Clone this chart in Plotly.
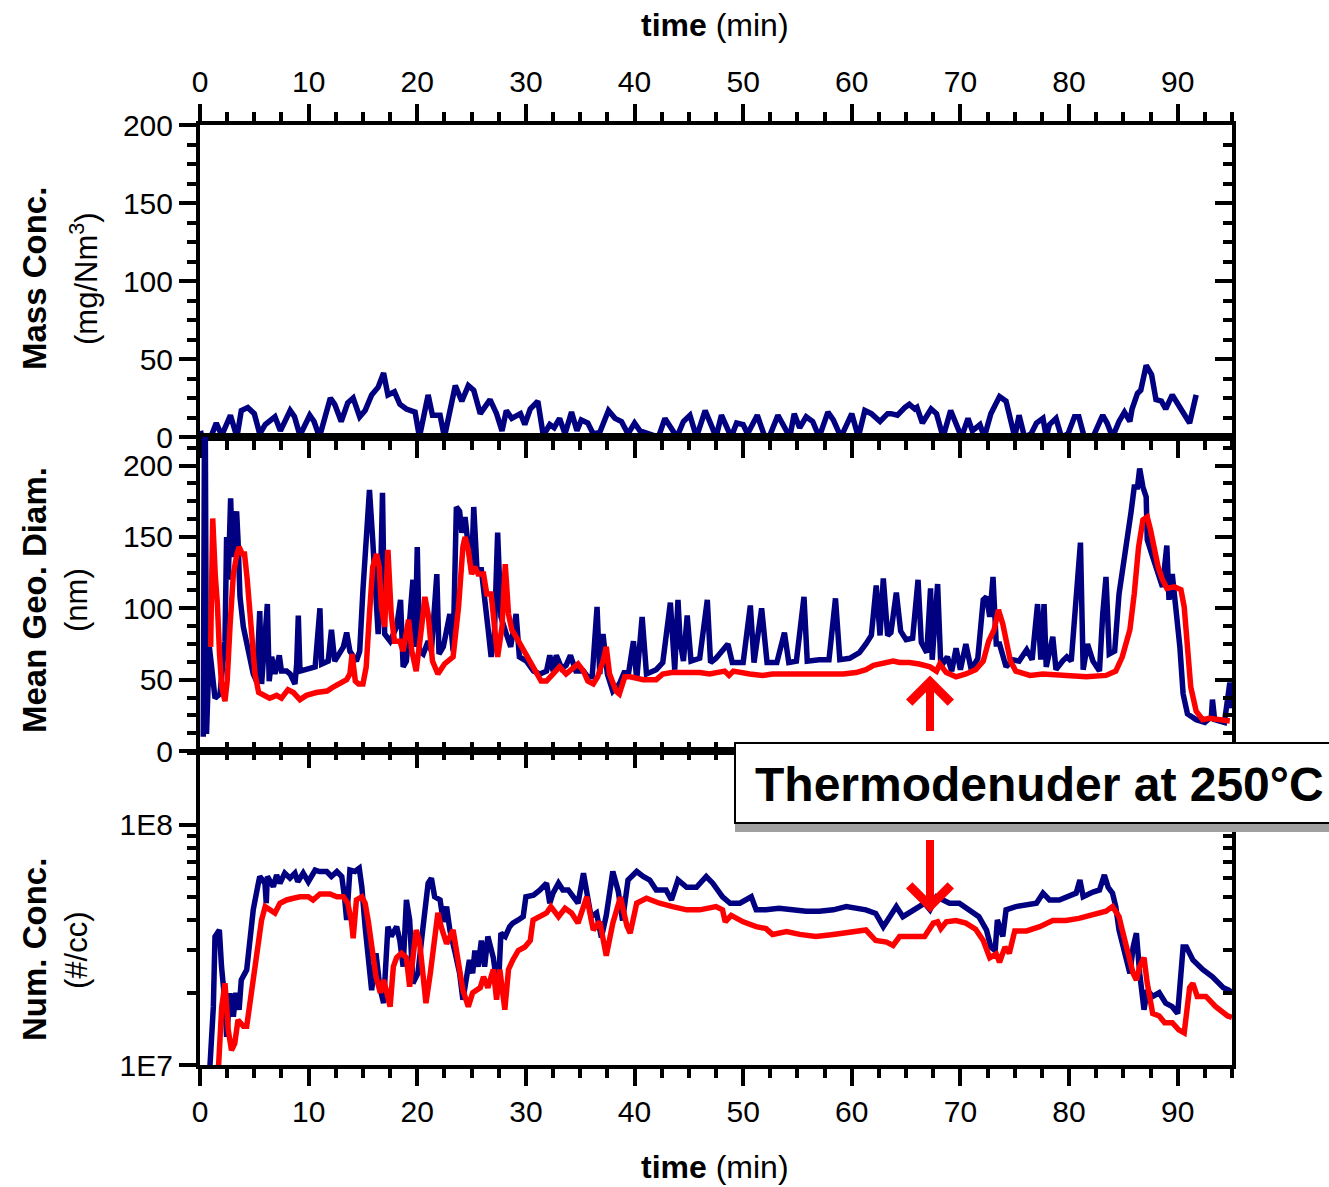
import plotly.graph_objects as go

# ---------------- data ----------------
x_tick_vals = [0, 10, 20, 30, 40, 50, 60, 70, 80, 90]

mass_t = [0.05, 0.3, 1.0, 1.5, 2.0, 2.8, 3.4, 3.8, 4.4, 5.0, 5.5, 6.0, 6.9, 7.4, 8.3, 8.7, 9.2, 10.1, 10.5, 11.0,
          12.0, 12.4, 13.0, 13.6, 14.1, 14.7, 15.2, 15.8, 16.4, 16.9, 17.3, 17.9, 18.4, 19.0, 19.8, 20.2, 21.0,
          21.4, 22.1, 22.5, 23.5, 24.1, 24.7, 25.2, 25.8, 26.7, 27.3, 27.8, 28.2, 28.7, 29.5, 29.9, 30.4, 31.1,
          31.6, 32.2, 32.6, 33.1, 33.6, 34.2, 34.7, 35.1, 35.7, 36.2, 36.8, 37.6, 38.2, 38.8, 39.4, 40.0, 40.5,
          41.4, 42.2, 42.8, 43.4, 43.9, 44.5, 45.1, 45.7, 46.5, 47.1, 47.5, 48.0, 48.5, 48.9, 49.4, 50.0, 50.4,
          51.3, 51.9, 52.4, 53.2, 53.6, 54.3, 54.7, 55.2, 55.8, 56.4, 57.0, 57.8, 58.3, 59.0, 60.0, 60.6, 61.2,
          61.8, 62.6, 63.3, 63.6, 64.2, 64.9, 65.3, 65.8, 66.0, 66.5, 67.3, 67.8, 68.4, 69.1, 69.6, 70.1, 70.7,
          71.1, 71.8, 72.2, 72.8, 73.6, 74.2, 74.7, 75.0, 75.4, 75.9, 76.5, 77.0, 77.6, 77.9, 78.2, 78.8, 79.3,
          79.9, 80.5, 80.9, 81.4, 82.2, 83.1, 83.5, 84.0, 84.6, 85.1, 85.6, 85.8, 86.3, 86.6, 87.1, 87.6, 88.0,
          88.5, 88.9, 89.5, 90.0, 90.6, 91.1, 91.7]
mass_v = [4, -5, 0, 9, 1, 14, 0, 17, 19, 15, 2, 8, 13, 4, 17, 13, 1, 14, 10, 0,
          25, 21, 10, 22, 25, 13, 17, 27, 32, 41, 27, 29, 21, 18, 16, 0, 27,
          14, 14, 0, 33, 23, 33, 30, 15, 24, 15, 4, 17, 12, 15, 8, 18, 23,
          1, 8, 6, 12, 2, 16, 4, 11, 9, 2, 3, 17, 12, 10, 2, 9, 4,
          2, 0, 12, 6, 0, 10, 14, 0, 17, 7, 0, 14, 7, 0, 9, 8, 2,
          14, 2, 0, 14, 9, 0, 15, 6, 13, 10, 0, 16, 11, 0, 15, 0, 17,
          15, 10, 15, 15, 14, 19, 21, 18, 19, 9, 18, 15, 0, 17, 9, 0, 12,
          4, 8, 0, 15, 26, 23, 9, 0, 14, 0, 2, 9, 12, 0, 8, 12, 0,
          2, 13, 13, 0, 0, 14, 9, 0, 10, 16, 10, 18, 28, 30, 46, 40, 24,
          23, 18, 27, 21, 15, 9, 27]

diam_blue_t = [0.3, 0.45, 0.6, 0.86, 1.07, 1.38, 1.84, 2.3, 2.45, 2.6, 2.82, 3.0, 3.22, 3.37, 3.5, 3.68, 3.99,
               4.45, 4.9, 5.2, 5.5, 5.67, 5.98, 6.2, 6.37, 6.6, 6.9, 7.3, 7.5, 7.97, 8.3, 8.74, 8.9, 9.05, 9.2,
               9.8, 10.6, 11.04, 11.2, 11.8, 12.1, 12.4, 13.2, 13.5, 13.8, 14.4, 14.7, 15.0, 15.3, 15.6, 15.9,
               16.1, 16.4, 16.6, 16.8, 17.0, 17.5, 18.1, 18.46, 18.7, 19.0, 19.6, 19.8, 20.0, 20.2, 20.55, 21.0,
               21.3, 21.8, 22.0, 22.4, 23.0, 23.3, 23.6, 23.9, 24.1, 24.4, 24.7, 25.0, 25.2, 25.5, 25.9, 26.2,
               26.5, 26.8, 27.1, 27.4, 27.7, 28.2, 28.6, 29.1, 29.4, 30.05, 30.7, 31.3, 31.9, 32.2, 32.5, 32.8,
               33.3, 33.7, 34.1, 34.6, 35.3, 35.7, 36.1, 36.55, 36.8, 37.1, 37.5, 38.0, 38.6, 39.1, 39.4, 39.9,
               40.2, 40.7, 41.1, 42.0, 42.6, 43.3, 43.7, 44.0, 44.2, 44.5, 44.85, 45.2, 46.0, 46.7, 47.0, 47.5,
               48.6, 49.0, 50.0, 50.66, 51.0, 51.7, 52.2, 53.1, 53.8, 54.2, 54.9, 55.6, 55.9, 57.0, 57.9, 58.5,
               58.9, 59.8, 60.7, 61.3, 61.8, 62.25, 62.6, 62.9, 63.3, 63.6, 64.1, 64.5, 65.0, 65.6, 66.1, 66.4,
               66.9, 67.25, 67.4, 67.9, 68.2, 68.8, 69.2, 69.6, 70.0, 70.5, 71.0, 71.6, 72.1, 72.4, 72.7, 73.0,
               73.3, 73.6, 74.2, 74.8, 75.4, 76.1, 76.6, 77.1, 77.4, 77.7, 77.9, 78.5, 78.8, 79.4, 79.8, 80.2,
               81.05, 81.3, 81.7, 82.2, 82.8, 83.1, 83.4, 83.7, 84.2, 84.6, 84.9, 85.3, 85.7, 86.0, 86.3, 86.5,
               86.8, 87.1, 87.2, 87.7, 88.2, 88.6, 89.0, 89.2, 89.5, 89.8, 90.2, 90.5, 90.9, 91.7, 92.5, 93.1,
               93.2, 93.4, 94.3, 94.8, 95.0]
diam_blue_v = [10, 300, 12, 73, 59, 37, 40, 77, 150, 120, 177, 136, 157, 168, 148, 108, 87,
               68, 54, 49, 98, 47, 77, 103, 49, 66, 54, 67, 56, 56, 54, 47, 61, 95, 56,
               57, 59, 100, 61, 63, 85, 63, 73, 83, 70, 63, 70, 113, 148, 183, 148,
               113, 82, 113, 181, 82, 77, 87, 106, 59, 63, 120, 73, 143, 70, 68, 77,
               70, 124, 68, 73, 96, 70, 171, 168, 153, 164, 143, 127, 171, 127, 127, 110,
               87, 66, 82, 153, 94, 82, 73, 96, 66, 63, 56, 54, 56, 67, 56, 67,
               58, 60, 67, 56, 56, 52, 52, 101, 54, 82, 54, 42, 47, 56, 52, 77,
               50, 94, 54, 57, 62, 104, 57, 106, 77, 63, 95, 63, 65, 106, 62, 65,
               75, 62, 62, 102, 62, 100, 62, 62, 83, 62, 63, 108, 63, 64, 64, 107,
               64, 65, 69, 75, 81, 116, 81, 121, 81, 83, 111, 84, 78, 79, 120, 76,
               69, 114, 64, 117, 59, 66, 56, 72, 57, 75, 57, 65, 106, 108, 94, 122,
               75, 75, 59, 64, 63, 71, 64, 103, 64, 103, 59, 80, 57, 63, 66, 63,
               146, 57, 75, 63, 56, 96, 122, 68, 70, 110, 124, 143, 167, 185, 185, 198,
               185, 178, 148, 136, 124, 115, 144, 106, 124, 101, 73, 40, 26, 22, 20, 24,
               36, 22, 20, 48, 30]

diam_red_t = [0.98, 1.17, 1.4, 1.6, 1.8, 2.0, 2.3, 2.5, 2.76, 3.07, 3.4, 3.6, 3.9, 4.1, 4.35, 4.6, 4.85, 5.06,
              5.4, 5.98, 6.4, 7.06, 7.5, 8.1, 8.6, 9.2, 9.8, 10.7, 11.7, 12.3, 12.9, 13.5, 13.8, 14.0, 14.3,
              14.6, 15.0, 15.3, 15.6, 15.9, 16.25, 16.5, 16.7, 17.0, 17.3, 17.6, 17.9, 18.4, 18.7, 19.2, 19.5,
              19.9, 20.4, 20.7, 21.0, 21.4, 21.9, 22.5, 23.3, 23.8, 24.2, 24.4, 24.7, 25.0, 25.3, 25.6, 26.1,
              26.4, 26.8, 27.1, 27.4, 27.8, 28.1, 28.4, 28.7, 29.1, 29.6, 30.2, 30.8, 31.4, 31.9, 32.5, 33.1,
              33.7, 34.2, 34.8, 35.3, 35.7, 36.2, 36.6, 37.1, 37.4, 37.7, 38.3, 38.6, 39.1, 39.6, 40.8, 42.0,
              42.6, 43.4, 44.8, 46.0, 46.9, 48.3, 48.7, 49.1, 50.6, 51.8, 52.7, 54.0, 55.8, 57.6, 59.2, 60.4,
              61.3, 62.0, 62.9, 63.8, 64.4, 65.3, 66.2, 67.2, 67.8, 68.1, 68.7, 69.6, 70.5, 71.4, 72.1, 72.6,
              73.1, 73.5, 73.9, 74.3, 74.6, 75.1, 76.4, 77.6, 79.7, 81.6, 83.4, 84.3, 84.9, 85.6, 86.0, 86.4,
              86.8, 87.2, 87.5, 87.9, 88.2, 88.6, 89.0, 89.7, 90.3, 90.6, 90.9, 91.2, 91.7, 92.3, 92.9, 93.8,
              94.8]
diam_red_v = [73, 163, 124, 103, 68, 45, 35, 49, 87, 124, 138, 143, 138, 138, 120, 96, 73, 54,
              41, 39, 37, 39, 37, 43, 41, 36, 39, 41, 42, 45, 47, 50, 54, 68, 49,
              47, 47, 59, 96, 129, 138, 129, 101, 87, 141, 96, 77, 77, 70, 92, 70,
              56, 87, 108, 96, 63, 54, 61, 66, 101, 143, 150, 141, 124, 129, 124, 124,
              110, 110, 87, 66, 87, 131, 96, 85, 80, 73, 66, 56, 49, 49, 54, 59,
              54, 57, 61, 56, 49, 47, 52, 63, 73, 54, 42, 40, 52, 52, 50, 50,
              54, 55, 55, 55, 54, 56, 53, 56, 54, 53, 54, 54, 54, 54, 54, 55,
              57, 60, 62, 63, 62, 62, 61, 59, 56, 61, 55, 52, 54, 57, 63, 77,
              85, 99, 89, 75, 63, 56, 53, 54, 53, 52, 53, 56, 66, 85, 110, 143,
              162, 164, 155, 138, 129, 120, 114, 115, 113, 101, 73, 45, 28, 22, 23, 22,
              21]

num_blue_t = [0.8, 1.23, 1.38, 1.78, 1.98, 2.3, 2.45, 2.76, 3.07, 3.3, 3.6, 3.8, 4.3, 4.6, 4.9, 5.37, 5.5, 5.98,
              6.1, 6.2, 6.75, 7.05, 7.36, 7.8, 8.28, 8.74, 9.0, 9.5, 9.97, 10.6, 11.0, 11.66, 12.1, 12.6, 13.05,
              13.3, 13.5, 13.8, 14.26, 14.66, 14.9, 15.2, 15.5, 15.8, 16.2, 16.56, 16.9, 17.2, 17.3, 17.6, 18.1,
              18.4, 18.7, 19.0, 19.3, 19.6, 20.06, 20.5, 21.0, 21.3, 21.6, 22.1, 22.4, 22.7, 23.0, 23.5, 23.9,
              24.2, 24.5, 24.8, 25.1, 25.3, 25.6, 25.9, 26.2, 26.5, 27.0, 27.45, 27.7, 28.1, 28.5, 28.8, 29.3,
              29.75, 30.0, 30.7, 31.3, 31.9, 32.2, 32.5, 33.0, 33.4, 33.9, 34.3, 34.8, 35.3, 35.6, 36.0, 36.5,
              36.95, 37.4, 38.0, 38.5, 38.9, 39.4, 40.2, 40.8, 41.4, 42.0, 42.9, 43.4, 44.0, 44.8, 45.7, 46.6,
              47.2, 48.1, 48.8, 49.7, 50.75, 51.2, 52.1, 53.3, 54.6, 55.8, 57.0, 58.3, 59.5, 60.7, 61.3, 62.2,
              62.9, 63.5, 64.1, 64.7, 65.6, 66.2, 66.7, 67.2, 67.8, 68.4, 69.0, 69.9, 70.8, 71.7, 72.4, 72.8,
              73.2, 73.4, 73.9, 74.2, 75.1, 76.05, 77.0, 77.6, 78.2, 79.1, 80.0, 80.65, 81.0, 81.3, 82.2, 82.8,
              83.25, 83.6, 84.0, 84.3, 84.6, 85.1, 85.6, 85.9, 86.2, 86.5, 86.9, 87.2, 87.7, 88.3, 88.9, 89.5,
              90.0, 90.5, 90.8, 91.4, 92.3, 93.2, 94.2, 94.7, 95.0]
num_blue_v = [0.8e7, 1.75e7, 3.43e7, 3.65e7, 2.57e7, 1.81e7, 1.31e7, 1.99e7, 1.59e7, 2.0e7, 1.7e7, 2.26e7, 2.49e7,
              3.54e7, 4.43e7, 5.72e7, 6.1e7, 5.72e7, 4.72e7, 6.1e7, 5.53e7, 6.19e7, 5.72e7, 6.3e7, 6.0e7, 6.3e7,
              5.8e7, 6.3e7, 5.8e7, 6.49e7, 6.4e7, 6.4e7, 6.1e7, 6.4e7, 6.1e7, 5.02e7, 4.02e7, 6.49e7, 6.4e7,
              6.6e7, 5.5e7, 3.77e7, 2.74e7, 2.05e7, 2.92e7, 2.1e7, 1.81e7, 2.92e7, 3.77e7, 3.43e7, 3.77e7,
              3.3e7, 2.57e7, 4.87e7, 4.02e7, 2.19e7, 2.41e7, 3.65e7, 5.72e7, 6.0e7, 5.02e7, 4.87e7, 3.95e7,
              4.57e7, 3.65e7, 2.92e7, 2.41e7, 1.87e7, 2.26e7, 2.74e7, 2.41e7, 3.0e7, 2.57e7, 3.3e7, 2.57e7,
              3.43e7, 2.8e7, 2.0e7, 3.54e7, 3.43e7, 3.77e7, 3.9e7, 4.02e7, 4.15e7, 5.02e7, 5.1e7, 5.36e7,
              5.72e7, 4.72e7, 5.2e7, 5.72e7, 5.36e7, 5.36e7, 5.02e7, 4.72e7, 6.3e7, 5.2e7, 4.15e7, 4.3e7,
              3.4e7, 4.2e7, 6.4e7, 5.3e7, 4.0e7, 5.9e7, 6.4e7, 6.1e7, 5.9e7, 5.36e7, 5.36e7, 4.87e7, 5.9e7,
              5.5e7, 5.5e7, 6.1e7, 5.72e7, 5.02e7, 4.72e7, 4.72e7, 5.02e7, 4.43e7, 4.43e7, 4.5e7, 4.43e7,
              4.37e7, 4.37e7, 4.43e7, 4.57e7, 4.5e7, 4.43e7, 4.28e7, 3.77e7, 4.15e7, 4.57e7, 4.15e7, 4.43e7,
              4.57e7, 4.72e7, 4.43e7, 5.02e7, 4.87e7, 4.72e7, 4.72e7, 4.43e7, 4.15e7, 3.65e7, 3.1e7, 3.0e7,
              4.02e7, 3.43e7, 4.43e7, 4.57e7, 4.65e7, 4.72e7, 5.2e7, 4.87e7, 4.87e7, 5.02e7, 5.2e7, 5.9e7,
              5.02e7, 5.25e7, 5.36e7, 6.19e7, 5.5e7, 5.2e7, 4.57e7, 3.65e7, 2.92e7, 2.41e7, 3.1e7, 3.54e7,
              2.41e7, 1.7e7, 2.05e7, 1.93e7, 2.0e7, 1.81e7, 1.75e7, 1.64e7, 3.1e7, 3.1e7, 2.74e7, 2.5e7,
              2.33e7, 2.1e7, 2.05e7, 2.0e7]

num_red_t = [1.6, 2.0, 2.3, 2.6, 2.9, 3.2, 3.5, 4.0, 4.3, 4.6, 5.06, 5.37, 5.67, 6.0, 6.44, 6.9, 7.36, 7.97, 8.6,
             9.2, 9.97, 10.4, 11.04, 11.96, 12.6, 13.2, 13.6, 13.95, 14.1, 14.4, 14.9, 15.2, 15.5, 15.9, 16.2,
             16.6, 16.9, 17.2, 17.5, 17.8, 18.1, 18.55, 19.0, 19.3, 19.6, 19.9, 20.2, 20.5, 20.8, 21.2, 21.5,
             21.9, 22.2, 22.7, 23.3, 23.8, 24.2, 24.7, 25.1, 25.8, 26.1, 26.5, 27.0, 27.3, 27.6, 28.06, 28.4,
             28.8, 29.3, 29.9, 30.4, 30.66, 31.3, 31.9, 32.3, 33.0, 33.6, 34.2, 34.8, 35.6, 36.2, 36.8, 37.4,
             38.0, 38.7, 39.3, 39.6, 40.2, 41.1, 42.3, 43.5, 44.8, 46.0, 47.5, 48.1, 48.35, 48.9, 50.0, 51.2,
             52.1, 52.7, 54.0, 55.2, 56.7, 58.3, 60.1, 61.3, 62.2, 63.2, 63.8, 64.4, 65.9, 66.7, 67.5, 67.9,
             68.2, 68.7, 69.6, 70.5, 71.4, 72.1, 72.7, 73.3, 73.6, 74.1, 74.5, 75.0, 76.1, 77.3, 78.5, 79.7,
             80.9, 82.2, 83.4, 84.0, 84.6, 84.9, 85.4, 85.9, 86.2, 86.5, 86.9, 87.2, 87.7, 88.3, 88.8, 89.5,
             90.1, 90.6, 91.1, 91.4, 91.8, 92.6, 93.5, 94.6, 95.0]
num_red_v = [0.8e7, 1.75e7, 2.19e7, 1.4e7, 1.15e7, 1.23e7, 1.54e7, 1.45e7, 1.45e7, 1.81e7, 2.57e7, 3.43e7, 4.02e7,
             4.57e7, 4.43e7, 4.3e7, 4.72e7, 4.87e7, 4.95e7, 5.02e7, 5.02e7, 4.87e7, 5.16e7, 5.16e7, 5.02e7,
             5.02e7, 4.72e7, 3.95e7, 3.37e7, 4.87e7, 5.02e7, 4.72e7, 3.95e7, 2.74e7, 2.33e7, 2.0e7, 2.26e7,
             2.0e7, 1.75e7, 2.57e7, 2.8e7, 2.92e7, 2.8e7, 2.12e7, 2.92e7, 3.65e7, 3.3e7, 2.26e7, 1.81e7,
             2.41e7, 3.2e7, 4.3e7, 3.77e7, 3.2e7, 3.65e7, 2.57e7, 2.05e7, 1.75e7, 2.0e7, 2.1e7, 2.33e7,
             2.1e7, 2.5e7, 1.87e7, 2.5e7, 1.7e7, 2.5e7, 2.74e7, 3.0e7, 3.1e7, 3.3e7, 4.02e7, 4.15e7, 4.3e7,
             4.57e7, 4.15e7, 4.5e7, 4.3e7, 3.9e7, 5.02e7, 3.65e7, 3.95e7, 2.85e7, 3.9e7, 5.0e7, 3.8e7,
             3.54e7, 4.72e7, 4.95e7, 4.72e7, 4.57e7, 4.43e7, 4.43e7, 4.57e7, 4.43e7, 3.95e7, 4.2e7, 3.95e7,
             3.77e7, 3.7e7, 3.5e7, 3.6e7, 3.5e7, 3.43e7, 3.5e7, 3.6e7, 3.65e7, 3.3e7, 3.25e7, 3.15e7,
             3.43e7, 3.43e7, 3.43e7, 3.9e7, 3.95e7, 3.7e7, 3.95e7, 4.0e7, 3.9e7, 3.68e7, 3.3e7, 2.8e7,
             2.9e7, 2.68e7, 3.1e7, 2.92e7, 3.62e7, 3.62e7, 3.77e7, 4.0e7, 4.0e7, 4.08e7, 4.2e7, 4.37e7,
             4.57e7, 4.15e7, 3.65e7, 2.92e7, 2.41e7, 2.26e7, 2.57e7, 2.8e7, 2.19e7, 1.64e7, 1.6e7, 1.5e7,
             1.5e7, 1.4e7, 1.36e7, 2.1e7, 2.19e7, 1.93e7, 1.93e7, 1.75e7, 1.6e7, 1.58e7]

log_major_vals = [1e7, 1e8]
log_major_text = ["1E7", "1E8"]
log_minor_vals = [2e7, 3e7, 4e7, 5e7, 6e7, 7e7, 8e7, 9e7, 2e8]
lin_major_vals = [0, 50, 100, 150, 200]

# ---------------- styling ----------------
FONT = "Liberation Sans, Arial, sans-serif"
NAVY = "#000080"
RED = "#ff0000"
LW = 5.5

fig = go.Figure()
fig.add_trace(go.Scatter(x=mass_t, y=mass_v, mode="lines", line=dict(color=NAVY, width=LW),
                         xaxis="x", yaxis="y", hoverinfo="skip"))
fig.add_trace(go.Scatter(x=diam_blue_t, y=diam_blue_v, mode="lines", line=dict(color=NAVY, width=LW),
                         xaxis="x2", yaxis="y2", hoverinfo="skip"))
fig.add_trace(go.Scatter(x=diam_red_t, y=diam_red_v, mode="lines", line=dict(color=RED, width=LW),
                         xaxis="x2", yaxis="y2", hoverinfo="skip"))
fig.add_trace(go.Scatter(x=num_blue_t, y=num_blue_v, mode="lines", line=dict(color=NAVY, width=LW),
                         xaxis="x3", yaxis="y3", hoverinfo="skip"))
fig.add_trace(go.Scatter(x=num_red_t, y=num_red_v, mode="lines", line=dict(color=RED, width=LW),
                         xaxis="x3", yaxis="y3", hoverinfo="skip"))
# empty traces so that the overlay (tick-only) axes get drawn
for xa, ya in [("x", "y4"), ("x2", "y5"), ("x3", "y6"), ("x4", "y3")]:
    fig.add_trace(go.Scatter(x=[None], y=[None], mode="lines", xaxis=xa, yaxis=ya,
                             hoverinfo="skip", showlegend=False))

tickfont = dict(family=FONT, size=30, color="black")
base = dict(showgrid=False, zeroline=False, linecolor="black", linewidth=4,
            tickcolor="black", tickwidth=3.5, tickfont=tickfont)

def xminor(direction):
    return dict(dtick=2.5, tick0=0, ticklen=9, tickwidth=3.5, tickcolor="black", ticks=direction)

D_TOP = [0.668, 1.0]
D_MID = [0.334, 0.668]
D_BOT = [0.0, 0.334]

layout = dict(
    width=1329, height=1187,
    margin=dict(l=200, r=97, t=125, b=122),
    paper_bgcolor="white", plot_bgcolor="white",
    showlegend=False,
    font=dict(family=FONT, color="black"),
    xaxis=dict(base, domain=[0, 1], anchor="y", side="top", range=[0, 95], showline=True,
               mirror="ticks", ticks="outside", ticklen=17, tickmode="array", tickvals=x_tick_vals,
               minor=xminor("outside")),
    xaxis2=dict(base, domain=[0, 1], anchor="y2", range=[0, 95], showline=True, mirror="ticks",
                ticks="inside", ticklen=9, tickmode="array", tickvals=x_tick_vals,
                showticklabels=False, minor=xminor("inside")),
    xaxis3=dict(base, domain=[0, 1], anchor="y3", side="bottom", range=[0, 95], showline=True,
                mirror=True, ticks="outside", ticklen=17, tickmode="array", tickvals=x_tick_vals,
                minor=xminor("outside")),
    xaxis4=dict(base, overlaying="x3", anchor="y3", side="top", range=[0, 95], showline=False,
                ticks="inside", ticklen=17, tickmode="array", tickvals=x_tick_vals,
                showticklabels=False, minor=xminor("inside")),
    yaxis=dict(base, domain=D_TOP, anchor="x", range=[0, 200], showline=True, mirror=True,
               ticks="outside", ticklen=17, tickmode="array", tickvals=lin_major_vals,
               minor=dict(dtick=12.5, tick0=0, ticklen=9, tickwidth=3.5, tickcolor="black", ticks="outside")),
    yaxis4=dict(base, overlaying="y", anchor="x", side="right", range=[0, 200], showline=False,
                ticks="inside", ticklen=17, tickmode="array", tickvals=lin_major_vals, showticklabels=False,
                minor=dict(dtick=12.5, tick0=0, ticklen=9, tickwidth=3.5, tickcolor="black", ticks="inside")),
    yaxis2=dict(base, domain=D_MID, anchor="x2", range=[0, 220], showline=True, mirror=True,
                ticks="outside", ticklen=17, tickmode="array", tickvals=lin_major_vals,
                minor=dict(dtick=12.5, tick0=0, ticklen=9, tickwidth=3.5, tickcolor="black", ticks="outside")),
    yaxis5=dict(base, overlaying="y2", anchor="x2", side="right", range=[0, 220], showline=False,
                ticks="inside", ticklen=17, tickmode="array", tickvals=lin_major_vals, showticklabels=False,
                minor=dict(dtick=12.5, tick0=0, ticklen=9, tickwidth=3.5, tickcolor="black", ticks="inside")),
    yaxis3=dict(base, domain=D_BOT, anchor="x3", type="log", range=[7, 8.308], showline=True, mirror=True,
                ticks="outside", ticklen=17, tickmode="array", tickvals=log_major_vals, ticktext=log_major_text,
                minor=dict(tickmode="array", tickvals=log_minor_vals, ticklen=9, tickwidth=3.5,
                           tickcolor="black", ticks="outside")),
    yaxis6=dict(base, overlaying="y3", anchor="x3", side="right", type="log", range=[7, 8.308], showline=False,
                ticks="inside", ticklen=17, tickmode="array", tickvals=log_major_vals, showticklabels=False,
                minor=dict(tickmode="array", tickvals=log_minor_vals, ticklen=9, tickwidth=3.5,
                           tickcolor="black", ticks="inside")),
)
fig.update_layout(**layout)

# ---------------- text annotations ----------------
def px_to_paper_x(px):
    return (px - 200) / 1032.0

def px_to_paper_y(py):
    return (1065 - py) / 940.0

ann = []
ann.append(dict(text="<b>time</b> (min)", x=px_to_paper_x(715), y=px_to_paper_y(25), xref="paper", yref="paper",
                showarrow=False, font=dict(family=FONT, size=32, color="black"), xanchor="center", yanchor="middle"))
ann.append(dict(text="<b>time</b> (min)", x=px_to_paper_x(715), y=px_to_paper_y(1167), xref="paper", yref="paper",
                showarrow=False, font=dict(family=FONT, size=32, color="black"), xanchor="center", yanchor="middle"))

ytitles = [("<b>Mass Conc.</b>", "(mg/Nm<sup>3</sup>)", 279, 84),
           ("<b>Mean Geo. Diam.</b>", "(nm)", 600, 76),
           ("<b>Num. Conc.</b>", "(#/cc)", 950, 76)]
for bold, unit, ypx, unit_x in ytitles:
    ann.append(dict(text=bold, x=px_to_paper_x(34), y=px_to_paper_y(ypx), xref="paper", yref="paper",
                    textangle=-90, showarrow=False, xanchor="center", yanchor="middle",
                    font=dict(family=FONT, size=33, color="black")))
    ann.append(dict(text=unit, x=px_to_paper_x(unit_x), y=px_to_paper_y(ypx), xref="paper", yref="paper",
                    textangle=-90, showarrow=False, xanchor="center", yanchor="middle",
                    font=dict(family=FONT, size=31, color="black")))

# label box text
ann.append(dict(text="<b>Thermodenuder at 250°C</b>", x=px_to_paper_x(1039), y=px_to_paper_y(784),
                xref="paper", yref="paper", showarrow=False, xanchor="center", yanchor="middle",
                font=dict(family=FONT, size=48, color="black")))

# red arrows
ann.append(dict(text="", x=67.2, y=53, xref="x2", yref="y2", showarrow=True, ax=0, ay=57,
                arrowhead=4, arrowsize=1.0, arrowwidth=8, arrowcolor=RED))
ann.append(dict(text="", x=67.2, y=7.635, xref="x3", yref="y3", showarrow=True, ax=0, ay=-74,
                arrowhead=4, arrowsize=1.0, arrowwidth=8, arrowcolor=RED))

fig.update_layout(annotations=ann)

shapes = [
    dict(type="rect", xref="paper", yref="paper", x0=px_to_paper_x(735), x1=px_to_paper_x(1340),
         y0=px_to_paper_y(832), y1=px_to_paper_y(822), fillcolor="#a0a0a0", line=dict(width=0), layer="above"),
    dict(type="rect", xref="paper", yref="paper", x0=px_to_paper_x(735), x1=px_to_paper_x(1340),
         y0=px_to_paper_y(823), y1=px_to_paper_y(743), fillcolor="white",
         line=dict(color="black", width=2), layer="above"),
]
fig.update_layout(shapes=shapes)

fig.write_html("out.html")
